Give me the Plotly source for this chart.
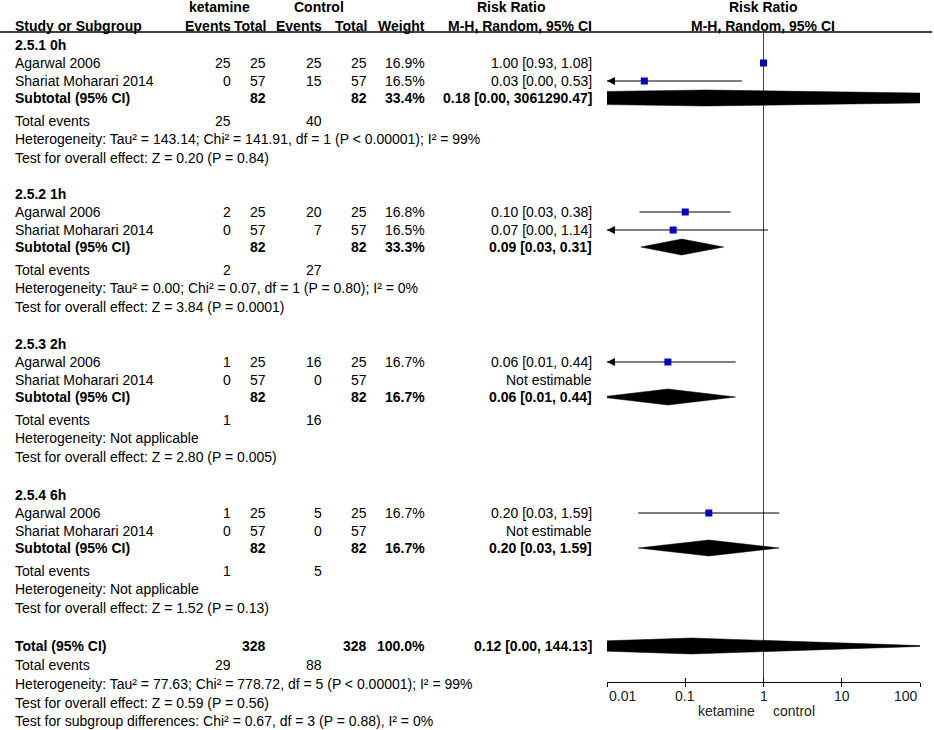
import math
import plotly.graph_objects as go

# ---------------- data ----------------
group_names = ["2.5.1 0h", "2.5.2 1h", "2.5.3 2h", "2.5.4 6h"]
study_names = ["Agarwal 2006", "Shariat Moharari 2014"]

ket_events = [[25, 0], [2, 0], [1, 0], [1, 0]]
ket_total = [[25, 57], [25, 57], [25, 57], [25, 57]]
ctl_events = [[25, 15], [20, 7], [16, 0], [5, 0]]
ctl_total = [[25, 57], [25, 57], [25, 57], [25, 57]]
study_weight = [["16.9%", "16.5%"], ["16.8%", "16.5%"], ["16.7%", ""], ["16.7%", ""]]

study_rr = [[1.00, 0.03], [0.10, 0.07], [0.06, None], [0.20, None]]
study_lo = [[0.93, 0.0017], [0.026, 0.0043], [0.0082, None], [0.025, None]]
study_hi = [[1.08, 0.53], [0.38, 1.14], [0.44, None], [1.59, None]]
study_ci_text = [["1.00 [0.93, 1.08]", "0.03 [0.00, 0.53]"],
                 ["0.10 [0.03, 0.38]", "0.07 [0.00, 1.14]"],
                 ["0.06 [0.01, 0.44]", "Not estimable"],
                 ["0.20 [0.03, 1.59]", "Not estimable"]]

sub_ket_total = [82, 82, 82, 82]
sub_ctl_total = [82, 82, 82, 82]
sub_weight = ["33.4%", "33.3%", "16.7%", "16.7%"]
sub_rr = [0.18, 0.09, 0.06, 0.20]
sub_lo = [1.1e-8, 0.027, 0.0082, 0.025]
sub_hi = [3061290.47, 0.31, 0.44, 1.59]
sub_ci_text = ["0.18 [0.00, 3061290.47]", "0.09 [0.03, 0.31]",
               "0.06 [0.01, 0.44]", "0.20 [0.03, 1.59]"]
sub_ket_events = [25, 2, 1, 1]
sub_ctl_events = [40, 27, 16, 5]
sub_het = ["Heterogeneity: Tau² = 143.14; Chi² = 141.91, df = 1 (P < 0.00001); I² = 99%",
           "Heterogeneity: Tau² = 0.00; Chi² = 0.07, df = 1 (P = 0.80); I² = 0%",
           "Heterogeneity: Not applicable",
           "Heterogeneity: Not applicable"]
sub_test = ["Test for overall effect: Z = 0.20 (P = 0.84)",
            "Test for overall effect: Z = 3.84 (P = 0.0001)",
            "Test for overall effect: Z = 2.80 (P = 0.005)",
            "Test for overall effect: Z = 1.52 (P = 0.13)"]

tot_ket_total = 328
tot_ctl_total = 328
tot_weight = "100.0%"
tot_rr = 0.12
tot_lo = 1.0e-4
tot_hi = 144.13
tot_ci_text = "0.12 [0.00, 144.13]"
tot_ket_events = 29
tot_ctl_events = 88
tot_het = "Heterogeneity: Tau² = 77.63; Chi² = 778.72, df = 5 (P < 0.00001); I² = 99%"
tot_test = "Test for overall effect: Z = 0.59 (P = 0.56)"
tot_subgroup = "Test for subgroup differences: Chi² = 0.67, df = 3 (P = 0.88), I² = 0%"

tick_vals = [0.01, 0.1, 1, 10, 100]
tick_text = ["0.01", "0.1", "1", "10", "100"]
favours_left = "ketamine"
favours_right = "control"

# ---------------- layout geometry (pixels) ----------------
W, H = 934, 730
FONT = "Liberation Sans, Arial, sans-serif"
FS = 14
col_study = 13
col_ke, col_kt, col_ce, col_ct, col_w, col_ci = 233, 268, 324, 369, 427, 594
plot_x0, plot_x1 = 607, 920
axis_y = 682
header_y1, header_y2, rule_y = 7, 26, 32
group_y0 = [45, 194, 344, 495]
offs = [0, 18, 36, 53, 76, 94, 113]
total_rows = [646, 665, 684, 703, 721]
half_h = 8

fig = go.Figure()
ann = []


def px(x):
    return x / W


def text(x, y, s, anchor="left", bold=False, color="#000", size=FS):
    ann.append(dict(xref="paper", yref="y", x=px(x), y=y,
                    text=("<b>%s</b>" % s) if bold else s,
                    xanchor=anchor, yanchor="middle", showarrow=False,
                    font=dict(family=FONT, size=size, color=color)))


# header
text(219, header_y1, "ketamine", "center", True)
text(319, header_y1, "Control", "center", True)
text(511, header_y1, "Risk Ratio", "center", True)
text(763, header_y1, "Risk Ratio", "center", True)
text(col_study, header_y2, "Study or Subgroup", "left", True)
text(col_ke, header_y2, "Events", "right", True)
text(col_kt, header_y2, "Total", "right", True)
text(col_ce, header_y2, "Events", "right", True)
text(col_ct, header_y2, "Total", "right", True)
text(col_w, header_y2, "Weight", "right", True)
text(col_ci, header_y2, "M-H, Random, 95% CI", "right", True)
text(763, header_y2, "M-H, Random, 95% CI", "center", True)

# reference line at RR = 1
fig.add_trace(go.Scatter(x=[1, 1], y=[rule_y, axis_y], mode="lines",
                         line=dict(color="#444", width=1), hoverinfo="skip"))


def diamond(rr, lo, hi, y):
    fig.add_trace(go.Scatter(x=[lo, rr, hi, rr, lo],
                             y=[y, y - half_h, y, y + half_h, y],
                             mode="lines", fill="toself", fillcolor="#000",
                             line=dict(color="#000", width=0.5), hoverinfo="skip"))


def arrow_left(y):
    ann.append(dict(xref="x", yref="y", x=math.log10(tick_vals[0]), y=y,
                    ax=7, ay=0, text="", showarrow=True, arrowhead=2,
                    arrowsize=1.6, arrowwidth=1, arrowcolor="#000", standoff=0))


for g in range(len(group_names)):
    y0 = group_y0[g]
    rows = [y0 + o for o in offs]
    text(col_study, rows[0], group_names[g], "left", True)
    for s in range(len(study_names)):
        y = rows[1 + s]
        text(col_study, y, study_names[s])
        text(col_ke, y, str(ket_events[g][s]), "right")
        text(col_kt, y, str(ket_total[g][s]), "right")
        text(col_ce, y, str(ctl_events[g][s]), "right")
        text(col_ct, y, str(ctl_total[g][s]), "right")
        if study_weight[g][s]:
            text(col_w, y, study_weight[g][s], "right")
        text(col_ci, y, study_ci_text[g][s], "right")
        if study_rr[g][s] is not None:
            fig.add_trace(go.Scatter(x=[study_lo[g][s], study_hi[g][s]], y=[y, y],
                                     mode="lines", line=dict(color="#000", width=1),
                                     hoverinfo="skip"))
            fig.add_trace(go.Scatter(x=[study_rr[g][s]], y=[y], mode="markers",
                                     marker=dict(symbol="square", size=7, color="#0000cc",
                                                 line=dict(width=0)),
                                     hoverinfo="skip"))
            if study_lo[g][s] < tick_vals[0]:
                arrow_left(y)
    ys = rows[3]
    text(col_study, ys, "Subtotal (95% CI)", "left", True)
    text(col_kt, ys, str(sub_ket_total[g]), "right", True)
    text(col_ct, ys, str(sub_ctl_total[g]), "right", True)
    text(col_w, ys, sub_weight[g], "right", True)
    text(col_ci, ys, sub_ci_text[g], "right", True)
    diamond(sub_rr[g], sub_lo[g], sub_hi[g], ys)
    text(col_study, rows[4], "Total events")
    text(col_ke, rows[4], str(sub_ket_events[g]), "right")
    text(col_ce, rows[4], str(sub_ctl_events[g]), "right")
    text(col_study, rows[5], sub_het[g])
    text(col_study, rows[6], sub_test[g])

# overall
yt = total_rows
text(col_study, yt[0], "Total (95% CI)", "left", True)
text(col_kt, yt[0], str(tot_ket_total), "right", True)
text(col_ct, yt[0], str(tot_ctl_total), "right", True)
text(col_w, yt[0], tot_weight, "right", True)
text(col_ci, yt[0], tot_ci_text, "right", True)
diamond(tot_rr, tot_lo, tot_hi, yt[0])
text(col_study, yt[1], "Total events")
text(col_ke, yt[1], str(tot_ket_events), "right")
text(col_ce, yt[1], str(tot_ctl_events), "right")
text(col_study, yt[2], tot_het)
text(col_study, yt[3], tot_test)
text(col_study, yt[4], tot_subgroup)

# tick labels and favours labels
for v, t in zip(tick_vals, tick_text):
    anchor = "left" if v == tick_vals[0] else ("right" if v == tick_vals[-1] else "center")
    ann.append(dict(xref="x", yref="y", x=math.log10(v), y=696, text=t,
                    xanchor=anchor, yanchor="middle", showarrow=False,
                    font=dict(family=FONT, size=FS, color="#222")))
ann.append(dict(xref="x", yref="y", x=0, y=711, text=favours_left, xanchor="right",
                xshift=-7, yanchor="middle", showarrow=False,
                font=dict(family=FONT, size=FS, color="#222")))
ann.append(dict(xref="x", yref="y", x=0, y=711, text=favours_right, xanchor="left",
                xshift=7, yanchor="middle", showarrow=False,
                font=dict(family=FONT, size=FS, color="#222")))

axis_pos = 1 - axis_y / H
common_x = dict(type="log", range=[math.log10(tick_vals[0]), math.log10(tick_vals[-1])],
                domain=[px(plot_x0), px(plot_x1)], anchor="free", position=axis_pos,
                tickvals=tick_vals, showticklabels=False, showgrid=False,
                zeroline=False, ticklen=4, tickcolor="#000", tickwidth=1)

fig.update_layout(
    width=W, height=H, margin=dict(l=0, r=0, t=0, b=0, pad=0),
    paper_bgcolor="white", plot_bgcolor="rgba(0,0,0,0)", showlegend=False,
    xaxis=dict(common_x, ticks="outside", showline=True, linecolor="#000", linewidth=1),
    xaxis2=dict(common_x, ticks="inside", overlaying="x", showline=False),
    yaxis=dict(range=[H, 0], domain=[0, 1], visible=False, fixedrange=True),
    annotations=ann,
    shapes=[dict(type="line", xref="paper", yref="y", x0=0, x1=px(932),
                 y0=rule_y, y1=rule_y, line=dict(color="#000", width=1.5))],
)
# dummy trace to activate overlay axis
fig.add_trace(go.Scatter(x=[1], y=[axis_y], xaxis="x2", mode="markers",
                         marker=dict(opacity=0), hoverinfo="skip"))

fig.write_html("out.html", config={"displayModeBar": False},
               post_script="document.body.style.margin='0px';document.body.style.overflow='hidden';")
